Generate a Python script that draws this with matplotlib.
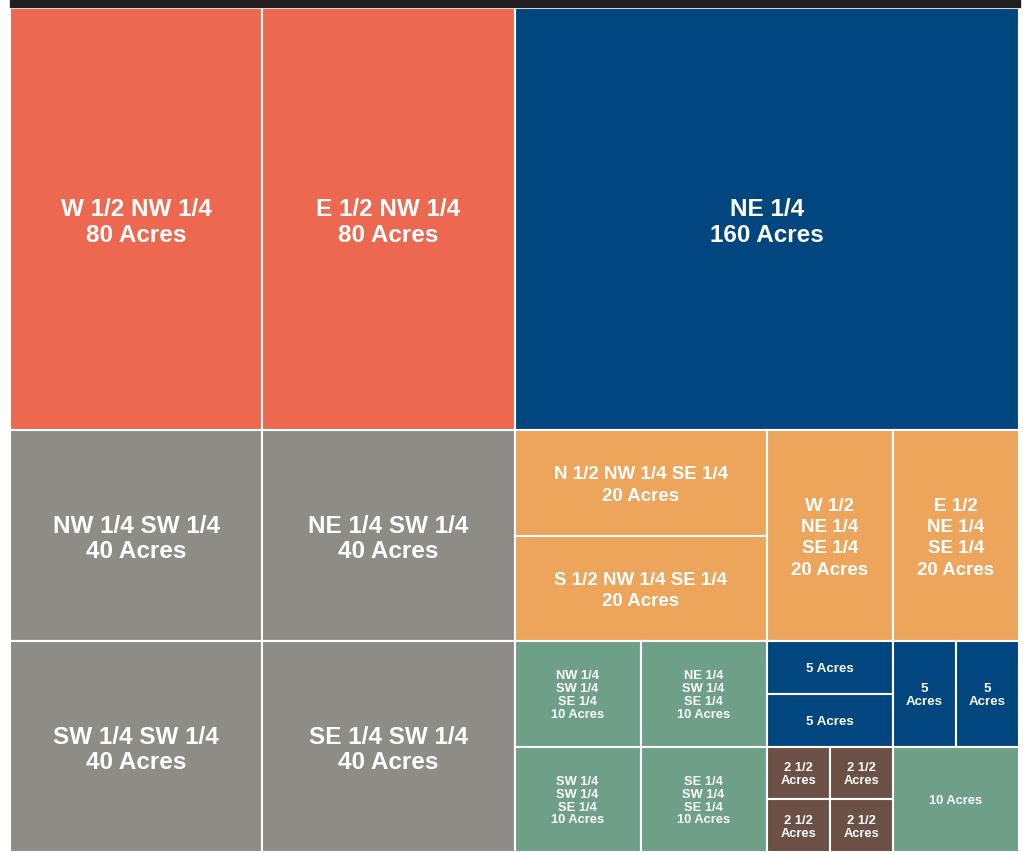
import matplotlib
matplotlib.use("Agg")
import matplotlib.pyplot as plt
from matplotlib.patches import Rectangle

# ---- data: parcels of a 640-acre section (legal description, label, acres)
descriptions = [
    "W 1/2 NW 1/4", "E 1/2 NW 1/4", "NE 1/4",
    "NW 1/4 SW 1/4", "NE 1/4 SW 1/4", "SW 1/4 SW 1/4", "SE 1/4 SW 1/4",
    "N 1/2 NW 1/4 SE 1/4", "S 1/2 NW 1/4 SE 1/4",
    "W 1/2 NE 1/4 SE 1/4", "E 1/2 NE 1/4 SE 1/4",
    "NW 1/4 SW 1/4 SE 1/4", "NE 1/4 SW 1/4 SE 1/4",
    "SW 1/4 SW 1/4 SE 1/4", "SE 1/4 SW 1/4 SE 1/4",
    "N 1/2 NW 1/4 SE 1/4 SE 1/4", "S 1/2 NW 1/4 SE 1/4 SE 1/4",
    "W 1/2 NE 1/4 SE 1/4 SE 1/4", "E 1/2 NE 1/4 SE 1/4 SE 1/4",
    "NW 1/4 SW 1/4 SE 1/4 SE 1/4", "NE 1/4 SW 1/4 SE 1/4 SE 1/4",
    "SW 1/4 SW 1/4 SE 1/4 SE 1/4", "SE 1/4 SW 1/4 SE 1/4 SE 1/4",
    "SE 1/4 SE 1/4 SE 1/4",
]
labels = [
    "W 1/2 NW 1/4\n80 Acres", "E 1/2 NW 1/4\n80 Acres", "NE 1/4\n160 Acres",
    "NW 1/4 SW 1/4\n40 Acres", "NE 1/4 SW 1/4\n40 Acres",
    "SW 1/4 SW 1/4\n40 Acres", "SE 1/4 SW 1/4\n40 Acres",
    "N 1/2 NW 1/4 SE 1/4\n20 Acres", "S 1/2 NW 1/4 SE 1/4\n20 Acres",
    "W 1/2\nNE 1/4\nSE 1/4\n20 Acres", "E 1/2\nNE 1/4\nSE 1/4\n20 Acres",
    "NW 1/4\nSW 1/4\nSE 1/4\n10 Acres", "NE 1/4\nSW 1/4\nSE 1/4\n10 Acres",
    "SW 1/4\nSW 1/4\nSE 1/4\n10 Acres", "SE 1/4\nSW 1/4\nSE 1/4\n10 Acres",
    "5 Acres", "5 Acres", "5\nAcres", "5\nAcres",
    "2 1/2\nAcres", "2 1/2\nAcres", "2 1/2\nAcres", "2 1/2\nAcres",
    "10 Acres",
]
acres = [80, 80, 160, 40, 40, 40, 40, 20, 20, 20, 20,
         10, 10, 10, 10, 5, 5, 5, 5, 2.5, 2.5, 2.5, 2.5, 10]

# ---- styles
colors = {160: "#02467f", 80: "#ec6850", 40: "#8e8c86", 20: "#eca55b",
          10: "#6e9f87", 5: "#02467f", 2.5: "#6c4f45"}
font_sizes = {160: 17.5, 80: 17.5, 40: 17.5, 20: 13.5, 10: 9.3, 5: 9.6, 2.5: 9.3}
line_spacing = {160: 1.13, 80: 1.13, 40: 1.13, 20: 1.32, 10: 1.09, 5: 1.09, 2.5: 1.09}


def parse(desc):
    """Turn a PLSS legal description into a rectangle of the unit section."""
    toks = desc.split()
    pairs = [(toks[i], toks[i + 1]) for i in range(0, len(toks), 2)]
    x0, y0, x1, y1 = 0.0, 0.0, 1.0, 1.0
    for d, frac in reversed(pairs):
        mx, my = (x0 + x1) / 2, (y0 + y1) / 2
        if "N" in d and (frac == "1/4" or d == "N"):
            y0 = my
        if "S" in d and (frac == "1/4" or d == "S"):
            y1 = my
        if "E" in d and (frac == "1/4" or d == "E"):
            x0 = mx
        if "W" in d and (frac == "1/4" or d == "W"):
            x1 = mx
    return x0, y0, x1, y1


W, H = 1023, 852
fig = plt.figure(figsize=(W / 100, H / 100), dpi=100)
fig.patch.set_facecolor("white")

# dark bar at top
fig.patches.append(Rectangle((10 / W, 1 - 7 / H), 1010 / W, 7 / H,
                             transform=fig.transFigure, color="#231f20",
                             zorder=0))

ax = fig.add_axes([10 / W, 0, 1009 / W, 844 / H])
ax.set_xlim(0, 1)
ax.set_ylim(0, 1)
ax.axis("off")

for desc, lab, a in zip(descriptions, labels, acres):
    x0, y0, x1, y1 = parse(desc)
    ax.add_patch(Rectangle((x0, y0), x1 - x0, y1 - y0,
                           facecolor=colors[a], edgecolor="white",
                           linewidth=1.5))
    fs = font_sizes[a]
    ax.annotate(lab, ((x0 + x1) / 2, (y0 + y1) / 2),
                xytext=(0, -0.15 * fs), textcoords="offset points",
                ha="center", va="center", multialignment="center",
                color="white", fontweight="bold", fontsize=fs,
                linespacing=line_spacing[a],
                family=["Liberation Sans", "DejaVu Sans"])

fig.savefig("out.png", dpi=100)
